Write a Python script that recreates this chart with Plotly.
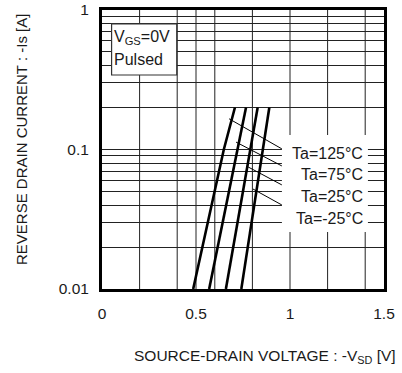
import plotly.graph_objects as go

# Data
current = [0.01, 0.1, 0.2]  # -Is [A]
vsd_125 = [0.485, 0.648, 0.707]
vsd_75 = [0.570, 0.720, 0.766]
vsd_25 = [0.659, 0.786, 0.828]
vsd_m25 = [0.741, 0.854, 0.890]

temps = ["Ta=125°C", "Ta=75°C", "Ta=25°C", "Ta=-25°C"]
series = [vsd_125, vsd_75, vsd_25, vsd_m25]

# leader lines (curve point -> label)
leader_x = [[0.676, 0.957], [0.713, 0.957], [0.777, 0.957], [0.803, 0.957]]
leader_y = [[0.166, 0.101], [0.113, 0.0762], [0.075, 0.0557], [0.0521, 0.040]]
label_y = [0.487, 0.409, 0.333, 0.254]

FONT = "Arial, Liberation Sans, sans-serif"
TXT = "#1a1a1a"

fig = go.Figure()
for name, xs in zip(temps, series):
    fig.add_trace(go.Scatter(x=xs, y=current, mode="lines", name=name,
                             line=dict(color="black", width=2.6), showlegend=False))
for lx, ly in zip(leader_x, leader_y):
    fig.add_trace(go.Scatter(x=lx, y=ly, mode="lines", line=dict(color="black", width=1),
                             showlegend=False, hoverinfo="skip"))

grid_vals = [0.2, 0.4, 0.5, 0.6, 0.8, 1.0, 1.2, 1.4]

fig.update_layout(
    width=402, height=373,
    margin=dict(l=102, r=18, t=10, b=84),
    paper_bgcolor="white", plot_bgcolor="white",
    font=dict(family=FONT, size=15, color=TXT),
    xaxis=dict(range=[0, 1.5], tickvals=[0, 0.5, 1, 1.5], ticktext=["0", "0.5", "1", "1.5"],
               showgrid=False, zeroline=False, showline=True, mirror=True, automargin=False,
               linecolor="black", linewidth=3, ticks="", ticklabelstandoff=8,
               tickfont=dict(size=15.5)),
    yaxis=dict(type="log", range=[-2, 0], tickvals=[0.01, 0.1, 1], ticktext=["0.01", "0.1", "1"],
               showgrid=True, gridcolor="#222", gridwidth=1, automargin=False,
               minor=dict(showgrid=True, gridcolor="#222", gridwidth=1,
                          tickvals=[k * 10 ** e for e in (-2, -1) for k in range(2, 10)]),
               zeroline=False, showline=True, mirror=True,
               linecolor="black", linewidth=3, ticks="", ticklabelstandoff=7,
               tickfont=dict(size=15.5)),
)

# vertical gridlines
for gv in grid_vals:
    fig.add_shape(type="line", xref="x", yref="paper", x0=gv, x1=gv, y0=0, y1=1,
                  line=dict(color="#222", width=1), layer="between")

# white area behind temperature labels
fig.add_shape(type="rect", xref="paper", yref="paper", x0=0.638, x1=0.943, y0=0.204, y1=0.552,
              fillcolor="white", line=dict(width=0), layer="above")

for t, yy in zip(temps, label_y):
    fig.add_annotation(text=t, xref="paper", yref="paper", x=0.932, y=yy, xanchor="right",
                       yanchor="middle", showarrow=False, font=dict(size=16, color=TXT))

# VGS box
fig.add_shape(type="rect", xref="paper", yref="paper", x0=0.034, x1=0.265, y0=0.767, y1=0.950,
              fillcolor="white", line=dict(color="#333", width=1.2), layer="above")
fig.add_annotation(text="V<sub>GS</sub>=0V", xref="paper", yref="paper", x=0.037, y=0.900,
                   xanchor="left", yanchor="middle", showarrow=False, font=dict(size=16, color=TXT))
fig.add_annotation(text="Pulsed", xref="paper", yref="paper", x=0.037, y=0.821,
                   xanchor="left", yanchor="middle", showarrow=False, font=dict(size=16, color=TXT))

# axis titles
fig.add_annotation(text="SOURCE-DRAIN VOLTAGE : -V<sub>SD</sub> [V]", xref="paper", yref="paper",
                   x=(265 - 102) / 282, y=(289 - 356) / 279, xanchor="center", yanchor="middle",
                   showarrow=False, font=dict(size=15.5, color=TXT))
fig.add_annotation(text="REVERSE DRAIN CURRENT : -Is [A]", xref="paper", yref="paper",
                   x=(21 - 102) / 282, y=(289 - 139) / 279, xanchor="center", yanchor="middle",
                   textangle=-90, showarrow=False, font=dict(size=15, color=TXT))

fig.write_html("out.html")
